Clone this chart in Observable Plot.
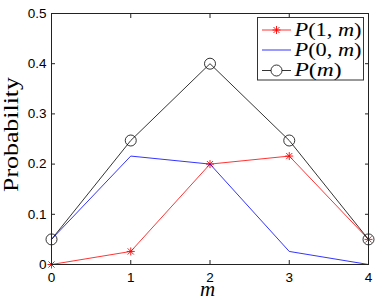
<!DOCTYPE html>
<html>
<head>
<meta charset="utf-8">
<script src="https://cdn.jsdelivr.net/npm/d3@7"></script>
<script src="https://cdn.jsdelivr.net/npm/@observablehq/plot@0.6"></script>
<style>
  html, body { margin: 0; padding: 0; background: #fff; }
  #chart { width: 382px; height: 300px; }
</style>
</head>
<body>
<div id="chart"></div>
<script>
// ---- data ----
const mValues = [0, 1, 2, 3, 4];
const p1m = [0, 0.026, 0.2, 0.216, 0.05];
const p0m = [0.05, 0.216, 0.2, 0.026, 0];
const pm = [0.05, 0.247, 0.4, 0.247, 0.05];
const xTicks = [0, 1, 2, 3, 4];
const yTicks = [0, 0.1, 0.2, 0.3, 0.4, 0.5];
const xLabel = "m";
const yLabel = "Probability";

const data = mValues.map((m, i) => ({m, p1: p1m[i], p0: p0m[i], p: pm[i]}));

const RED = "#ff0000", BLUE = "#0000ff", BLACK = "#000000";
const yFmt = d => d === 0 ? "0" : d.toFixed(1);

const chart = Plot.plot({
  width: 382,
  height: 300,
  marginLeft: 51,
  marginRight: 14,
  marginTop: 13,
  marginBottom: 36,
  x: {domain: [0, 4]},
  y: {domain: [0, 0.5]},
  style: {fontFamily: "'Liberation Sans', Arial, Helvetica, sans-serif", fontSize: "13.5px", color: "#000", background: "#fff"},
  marks: [
    Plot.axisX(xTicks, {anchor: "bottom", tickSize: 0, tickPadding: 8, label: null, fontSize: 13.5}),
    Plot.axisY(yTicks, {anchor: "left", tickSize: 0, tickPadding: 5, label: null, tickFormat: yFmt, fontSize: 13.5}),
    Plot.axisX(xTicks, {anchor: "bottom", tickSize: -4, text: null, label: null, stroke: "#222"}),
    Plot.axisX(xTicks, {anchor: "top", tickSize: -4, text: null, label: null, stroke: "#222"}),
    Plot.axisY(yTicks, {anchor: "left", tickSize: -4, text: null, label: null, stroke: "#222"}),
    Plot.axisY(yTicks, {anchor: "right", tickSize: -4, text: null, label: null, stroke: "#222"}),
    Plot.line(data, {x: "m", y: "p1", stroke: RED, strokeWidth: 0.8}),
    Plot.dot(data, {x: "m", y: "p1", symbol: "plus", r: 2.7, stroke: RED, strokeWidth: 0.9}),
    Plot.dot(data, {x: "m", y: "p1", symbol: "times", r: 2.9, stroke: RED, strokeWidth: 0.9}),
    Plot.line(data, {x: "m", y: "p0", stroke: BLUE, strokeWidth: 0.8}),
    Plot.line(data, {x: "m", y: "p", stroke: BLACK, strokeWidth: 0.8}),
    Plot.dot(data, {x: "m", y: "p", r: 5.5, stroke: BLACK, fill: "none", strokeWidth: 0.8}),
    Plot.frame({stroke: "#222", strokeWidth: 1})
  ]
});

const svg = d3.select(chart);
const serif = "'Liberation Serif', 'Times New Roman', serif";

// y label
svg.append("text")
  .attr("transform", "translate(18,134.5) rotate(-90)")
  .attr("text-anchor", "middle")
  .attr("font-family", serif)
  .attr("font-size", 21)
  .attr("textLength", 115)
  .attr("lengthAdjust", "spacingAndGlyphs")
  .attr("fill", "#000")
  .text(yLabel);

// x label
svg.append("text")
  .attr("x", 207.5).attr("y", 296)
  .attr("text-anchor", "middle")
  .attr("font-family", serif)
  .attr("font-style", "italic")
  .attr("font-size", 21)
  .attr("fill", "#000")
  .text(xLabel);

// legend
const lg = svg.append("g").attr("text-anchor", "start");
lg.append("rect")
  .attr("x", 257.5).attr("y", 17.5).attr("width", 106).attr("height", 62.5)
  .style("fill", "#ffffff").style("stroke", "#333333").style("stroke-width", "1px");

const entries = [
  {parts: [["P", true], ["(1, ", false], ["m", true], [")", false]], color: RED, marker: "star", len: 67},
  {parts: [["P", true], ["(0, ", false], ["m", true], [")", false]], color: BLUE, marker: null, len: 67},
  {parts: [["P", true], ["(", false], ["m", true], [")", false]], color: BLACK, marker: "circle", len: 47}
];
const rowY = [30, 50, 70.5];
entries.forEach((e, i) => {
  const y = rowY[i];
  lg.append("line").attr("x1", 262).attr("x2", 291).attr("y1", y).attr("y2", y)
    .style("stroke", e.color).style("stroke-width", "0.8px");
  if (e.marker === "star") {
    const cx = 276.5, s = 4, d = 3;
    lg.append("path")
      .attr("d", `M${cx - s},${y}H${cx + s}M${cx},${y - s}V${y + s}M${cx - d},${y - d}L${cx + d},${y + d}M${cx - d},${y + d}L${cx + d},${y - d}`)
      .style("stroke", e.color).style("stroke-width", "0.9px").style("fill", "none");
  } else if (e.marker === "circle") {
    lg.append("circle").attr("cx", 276.5).attr("cy", y).attr("r", 5.5)
      .style("stroke", e.color).style("stroke-width", "0.8px").style("fill", "#ffffff");
  }
  const t = lg.append("text")
    .attr("x", 294.5).attr("y", y + 5.5)
    .attr("text-anchor", "start")
    .attr("font-family", serif)
    .attr("font-size", 19)
    .attr("fill", "#000")
    .attr("textLength", e.len)
    .attr("lengthAdjust", "spacingAndGlyphs");
  e.parts.forEach(([s, it]) => {
    t.append("tspan").attr("font-style", it ? "italic" : "normal").text(s);
  });
});

document.getElementById("chart").appendChild(chart);
</script>
</body>
</html>
